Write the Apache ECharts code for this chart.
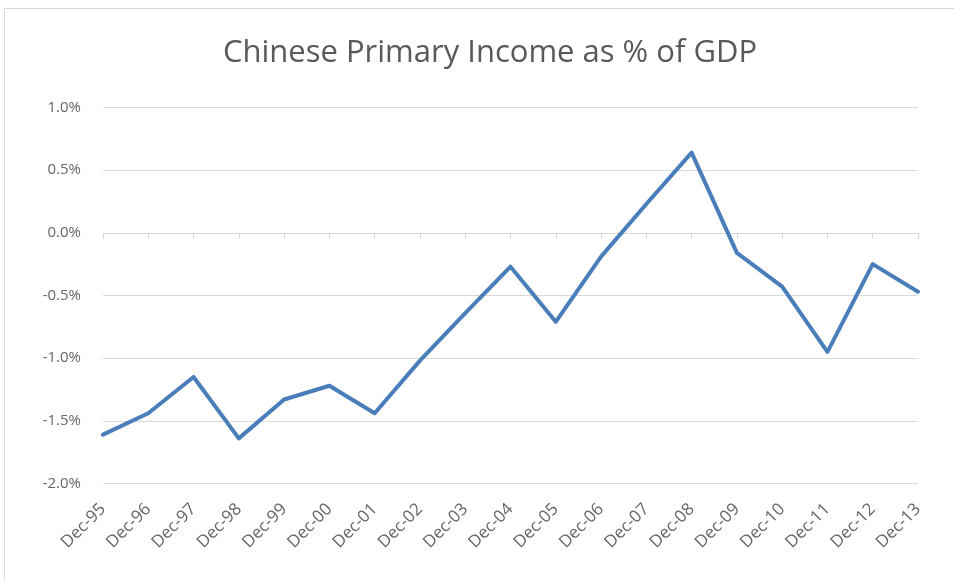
<!DOCTYPE html>
<html>
<head>
<meta charset="utf-8">
<script src="https://cdn.jsdelivr.net/npm/echarts@6/dist/echarts.min.js"></script>
<style>
  html, body { margin: 0; padding: 0; background: #ffffff; }
  #chart { width: 954px; height: 581px; }
</style>
</head>
<body>
<div id="chart"></div>
<script>
// Year-end labels, Dec-95 through Dec-13
const categories = ['Dec-95','Dec-96','Dec-97','Dec-98','Dec-99','Dec-00','Dec-01','Dec-02','Dec-03','Dec-04',
                    'Dec-05','Dec-06','Dec-07','Dec-08','Dec-09','Dec-10','Dec-11','Dec-12','Dec-13'];
// Primary income balance, percent of GDP
const primaryIncomePct = [-1.61,-1.44,-1.15,-1.64,-1.33,-1.22,-1.44,-1.02,-0.64,-0.27,
                          -0.71,-0.19,0.23,0.64,-0.16,-0.43,-0.95,-0.25,-0.47];
// Value-axis range and step (percent)
const yMin = -2.0, yMax = 1.0, yStep = 0.5;

const chart = echarts.init(document.getElementById('chart'));
const font = "'Open Sans', 'Noto Sans', sans-serif";

chart.setOption({
  animation: false,
  backgroundColor: '#ffffff',
  graphic: [{
    type: 'rect',
    shape: { x: 4.5, y: 8.5, width: 1000, height: 1000 },
    style: { fill: 'none', stroke: '#d9d9d9', lineWidth: 1 },
    silent: true
  }],
  title: {
    text: 'Chinese Primary Income as % of GDP',
    left: 485,
    top: 33,
    textAlign: 'center',
    textStyle: { fontFamily: font, fontSize: 31, fontWeight: 'normal', color: '#595959' }
  },
  grid: { left: 103, right: 36, top: 107.5, bottom: 97.5, containLabel: false },
  xAxis: {
    type: 'category',
    data: categories,
    boundaryGap: false,
    axisLine: { lineStyle: { color: '#d9d9d9', width: 1 } },
    axisTick: { show: true, alignWithLabel: true, length: 6, lineStyle: { color: '#d9d9d9' } },
    axisLabel: {
      rotate: 45, interval: 0, margin: 23,
      fontFamily: font, fontSize: 17, color: '#666666'
    },
    splitLine: { show: false }
  },
  yAxis: {
    type: 'value',
    min: yMin, max: yMax, interval: yStep,
    axisLine: { show: false },
    axisTick: { show: false },
    axisLabel: {
      margin: 22,
      fontFamily: font, fontSize: 15, color: '#666666',
      formatter: v => v.toFixed(1) + '%'
    },
    splitLine: { lineStyle: { color: '#d9d9d9', width: 1 } }
  },
  series: [{
    type: 'line',
    data: primaryIncomePct,
    symbol: 'none',
    lineStyle: { color: '#4a7ebb', width: 4, join: 'round', cap: 'round' },
    silent: true
  }]
});
</script>
</body>
</html>
